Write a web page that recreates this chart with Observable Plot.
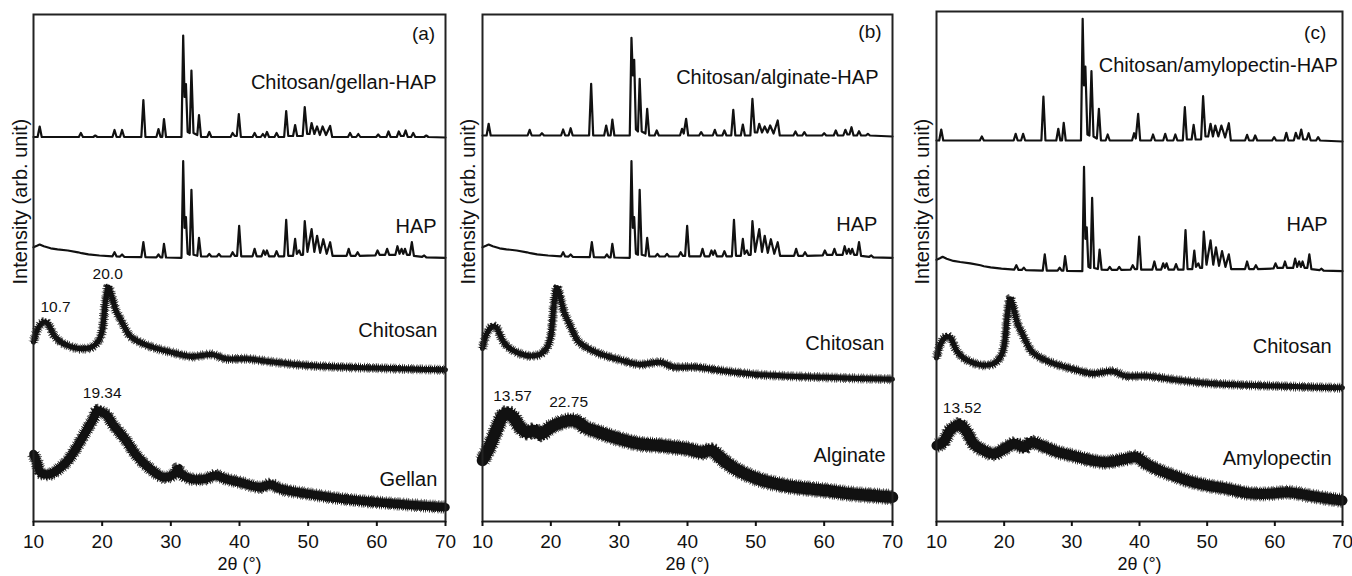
<!DOCTYPE html>
<html><head><meta charset="utf-8">
<script src="https://cdn.jsdelivr.net/npm/d3@7"></script>
<script src="https://cdn.jsdelivr.net/npm/@observablehq/plot@0.6"></script>
<style>
body{margin:0;background:#fff;}
#wrap{position:relative;width:1352px;height:576px;font-family:"Liberation Sans",Arial,Helvetica,sans-serif;overflow:hidden;}
#wrap > svg{position:absolute;top:0;}
</style></head><body><div id="wrap"></div>
<script>
// ---------- tick labels / axis text ----------
const xTicks = [10, 20, 30, 40, 50, 60, 70];
const xLabel = "2θ (°)";
const yLabel = "Intensity (arb. unit)";

// ---------- patterns: [2θ (°), intensity (arb. unit, relative)] ----------
const hap = [[10,10.5],[10.5,12],[10.9,13.3],[11.5,11.5],[12.5,9.5],[13.5,8.5],[15,7.3],[16.5,5.5],[17,4.6],[18,3.5],[19.6,2.3],[21.5,1.5],[21.8,5.6],[22.1,1.3],[22.6,1.2],[22.9,3.3],[23.2,1],[25.7,0.6],[26,15.6],[26.3,0.6],[27.9,0.5],[28.2,3.3],[28.5,0.5],[28.75,0.5],[29,14],[29.3,0.3],[31.55,0],[31.8,96.6],[32,30],[32.2,40.6],[32.45,4],[32.75,3],[33,68],[33.3,3],[33.85,2],[34.1,20],[34.4,1.5],[35.3,1.3],[35.6,4],[35.9,1.3],[36.7,1.3],[37,4],[37.3,1.3],[38.7,1.5],[39,5.6],[39.3,2],[39.65,2],[39.95,32],[40.25,1.5],[41.9,1.5],[42.2,9],[42.5,1.5],[43.2,1.5],[43.5,7.3],[43.75,3],[44,7.3],[44.3,1.5],[45.1,1.5],[45.4,6.6],[45.7,1.5],[46.5,1.5],[46.8,38],[47.1,2],[47.8,2],[48.1,19],[48.35,4],[48.7,7.3],[48.95,3],[49.25,3],[49.5,36.6],[49.9,6],[50.5,28.6],[50.9,6],[51.3,22],[51.75,5],[52.2,18.6],[52.7,4],[53.2,15.6],[53.55,2],[55.6,2],[55.9,9],[56.2,2],[56.9,2],[57.2,5.6],[57.5,2],[59.8,2.5],[60.1,7.3],[60.4,3],[61.2,3],[61.5,9],[61.8,3],[62.7,3],[63,11.6],[63.3,4],[63.6,9],[63.85,4],[64.1,9],[64.4,3],[64.8,3],[65.1,15.6],[65.4,2],[66.6,1],[66.9,2.3],[67.2,0.5],[70,0]];

const chitosan = [[10,27.7],[10.5,39.3],[11,45],[11.5,47.7],[12,46.7],[12.5,41],[13,34.3],[14,27.7],[15,24.3],[16,22],[17,21],[18.5,22.7],[19.5,29.3],[20,39.3],[20.5,69.3],[20.9,82.7],[21.5,71],[22,59.3],[22.5,52.7],[23,46],[24,34.3],[25,29.3],[27,23.3],[30,17.7],[33,13.3],[36,15.3],[38,11],[41,11],[45,7.7],[50,4.3],[55,2.7],[60,1.7],[65,0.7],[70,0]];

const chitosanGellanHap = [[10,0],[10.6,0],[10.9,10.5],[11.2,0],[16.6,0],[16.9,4],[17.2,0],[18.7,0],[19,1.5],[19.3,0],[21.5,0],[21.8,7],[22.1,0],[22.6,0],[22.9,7],[23.2,0],[25.7,0],[26,37],[26.3,0],[27.9,0],[28.2,8],[28.5,0],[28.75,0],[29,18],[29.3,0],[31.55,0],[31.8,101.5],[32,40],[32.2,53],[32.45,5],[32.75,4],[33,66.5],[33.3,4],[33.85,2],[34.1,22],[34.4,0],[35.3,0],[35.6,5],[35.9,0],[38.7,0],[39,4],[39.3,1],[39.6,1],[39.9,23],[40.2,0],[41.9,0],[42.2,4],[42.5,0],[43.1,0],[43.4,3],[43.7,0],[44,5],[44.3,0],[45.1,0],[45.4,4],[45.7,0],[46.5,0],[46.8,26],[47.1,1],[47.8,1],[48.1,12],[48.4,1],[49.2,1],[49.5,30],[49.85,3],[50.2,3],[50.5,14],[50.9,3],[51.3,10.5],[51.7,2],[52.1,10.5],[52.6,2],[53.2,11],[53.5,0],[55.8,0],[56.1,4],[56.4,0],[57,0],[57.3,3],[57.6,0],[59.9,0],[60.2,2.5],[60.5,0],[61.4,0],[61.7,5.5],[62,0],[62.9,0],[63.2,5.5],[63.5,1],[63.9,1],[64.2,6.5],[64.5,0],[65,0],[65.3,4],[65.6,0],[66.9,0],[67.2,1.5],[67.5,0],[70,-0.5]];

const gellan = [[10,53.3],[10.5,45],[11,35],[12,32.7],[13,35],[14,40],[15,46.7],[16,56.7],[17,68.3],[18,80],[18.7,88.3],[19.3,96.7],[20,95],[20.7,91.7],[21.5,83.3],[22.5,75],[23.5,66.7],[25,51.7],[27,38.3],[29,30],[30.5,33.3],[31,38.3],[31.5,33.3],[33,28.3],[35,28.3],[36.5,31.7],[38,28.3],[40,25],[43,20],[44.5,22.7],[46,18.3],[50,13.3],[55,8.3],[60,5],[65,2.3],[70,0]];

const chitosanAlginateHap = [[10,0],[10.6,0],[10.9,11.7],[11.2,0],[16.6,0],[16.9,5.7],[17.2,0],[18.4,0],[18.7,2.3],[19,0],[21.5,0],[21.8,6],[22.1,0],[22.6,0],[22.9,7.3],[23.2,0],[25.6,0],[25.9,51.7],[26.2,0],[27.8,0],[28.1,10],[28.4,0],[28.75,0],[29,16],[29.3,0],[31.55,0],[31.8,97.7],[32,60],[32.2,75.7],[32.45,6],[32.75,4],[33,56.7],[33.3,4],[33.85,2],[34.1,26.7],[34.4,0],[35.2,0],[35.5,5],[35.8,0],[38.9,0],[39.2,6.7],[39.45,2],[39.8,16.7],[40.1,0],[41.7,0],[42,3.3],[42.3,0],[43.7,0],[44,5.7],[44.3,0],[45.1,0],[45.4,5],[45.7,0],[46.4,0],[46.7,25.7],[47,0],[47.8,0],[48.1,11],[48.4,0],[49.2,0],[49.5,36.7],[49.85,3],[50.2,3],[50.5,11.7],[50.9,3],[51.3,9],[51.7,3],[52.1,10],[52.6,2],[53.2,15],[53.5,0],[55.5,0],[55.8,4],[56.1,0],[56.8,0],[57.1,3.3],[57.4,0],[59.7,0],[60,2.3],[60.3,0],[61.4,0],[61.7,5],[62,0],[62.8,0],[63.1,5.7],[63.4,1],[63.7,1],[64,8.3],[64.3,0],[64.8,0],[65.1,4.3],[65.4,0],[66.1,0],[66.4,1.7],[66.7,0],[70,-1]];

const alginate = [[10,36.7],[11,50],[12,66.7],[13,81.7],[13.6,84],[14.5,80],[15.5,70],[16.5,65],[17.5,66.7],[18.5,63.3],[20,70],[21,73.3],[22.75,76.7],[24,75],[25,70],[27,65],[30,58.3],[33,53.3],[36,51.7],[38,50],[40,48.3],[42,45],[43.5,46.7],[45,38.3],[47,28.3],[49,21.7],[51,16.7],[53,13.3],[55,10.7],[58,8.3],[61,6],[64,3.3],[67,1.7],[70,0]];

const chitosanAmylopectinHap = [[10,0],[10.4,0],[10.7,11],[11,0],[16.4,0],[16.7,4],[17,0],[21.4,0],[21.7,6.7],[22,0],[22.5,0],[22.8,6.7],[23.1,0],[25.5,0],[25.8,44],[26.1,0],[27.7,0],[28,11.7],[28.3,0],[28.55,0],[28.8,17.7],[29.1,0],[31.35,0],[31.6,121.7],[31.8,55],[32,74],[32.3,6],[32.6,5],[32.9,69.3],[33.2,4],[33.7,2],[34,31.7],[34.3,0],[35,0],[35.3,6],[35.6,0],[38.9,0],[39.2,7.3],[39.45,2],[39.8,26.7],[40.1,0],[41.7,0],[42,6],[42.3,0],[43.5,0],[43.8,6.7],[44.1,0],[45,0],[45.3,6],[45.6,0],[46.4,0],[46.7,33.3],[47,1],[47.7,1],[48,15.7],[48.3,1],[49.1,1],[49.4,44.3],[49.75,4],[50.15,4],[50.5,16.7],[50.85,4],[51.2,15],[51.65,4],[52.1,15],[52.65,3],[53.2,17.3],[53.5,0],[55.6,0],[55.9,5.7],[56.2,0],[56.8,0],[57.1,5],[57.4,0],[59.6,0],[59.9,3.3],[60.2,0],[61.4,0],[61.7,7.7],[62,0],[62.8,0],[63.1,7.7],[63.4,2],[63.6,2],[63.9,11],[64.2,1],[64.7,1],[65,7.3],[65.3,0],[66.1,0],[66.4,3.3],[66.7,0],[70,-1]];

const amylopectin = [[10,55],[11,58.3],[12,70],[13,75],[13.5,76],[14.5,68.3],[15.5,56.7],[17,50],[18.5,46.7],[20,51.7],[21.5,56.7],[23,53.3],[24,58.3],[25.5,55],[28,48.3],[30,45],[33,40],[35,38.3],[38,41.7],[39.5,43.3],[41,36.7],[43,30],[45,25],[47,20],[50,15],[53,11.7],[56,7.3],[59,6.7],[62,8.3],[65,5],[68,1.7],[70,0]];

// ---------- stacking (vertical offset and scale of each pattern) ----------
const stackA = [
  {data: chitosanGellanHap, offset: 384.5, scale: 1, w: 2.2},
  {data: hap, offset: 263.7, scale: 1, w: 2.2},
  {data: chitosan, offset: 151.7, scale: 1, w: 5, noisy: true},
  {data: gellan, offset: 14.3, scale: 1, w: 8.5, noisy: true}
];
const stackB = [
  {data: chitosanAlginateHap, offset: 386, scale: 1, w: 2.2},
  {data: hap, offset: 263.7, scale: 1, w: 2.2},
  {data: chitosan, offset: 142.3, scale: 1.11, w: 5, noisy: true},
  {data: alginate, offset: 24.3, scale: 1, w: 11.5, noisy: true}
];
const stackC = [
  {data: chitosanAmylopectinHap, offset: 381, scale: 1, w: 2.2},
  {data: hap, offset: 250.3, scale: 1.08, w: 2.2},
  {data: chitosan, offset: 133.7, scale: 1.076, w: 5, noisy: true},
  {data: amylopectin, offset: 21, scale: 1, w: 10, noisy: true}
];

// ---------- text annotations: [text, 2θ, intensity] ----------
const namesA = [["Chitosan/gellan-HAP",68.7,439],["HAP",68.7,295],["Chitosan",68.8,191],["Gellan",68.8,42]];
const namesB = [["Chitosan/alginate-HAP",67.95,444],["HAP",67.8,297],["Chitosan",68.8,178],["Alginate",69.0,66]];
const namesC = [["Chitosan/amylopectin-HAP",69.3,456],["HAP",67.8,297],["Chitosan",68.4,175],["Amylopectin",68.4,63]];
const tagA = [["(a)",68.5,488]], tagB = [["(b)",68.4,490]], tagC = [["(c)",67.6,489]];
const peaksA = [["20.0",20.8,247],["10.7",13.2,214],["19.34",20.0,128]];
const peaksB = [["13.57",14.4,125],["22.75",22.6,119]];
const peaksC = [["13.52",13.8,113]];

const panels = [
  {left: 0, width: 452, mL: 33, mR: 7, mT: 14, yMax: 507, stack: stackA, names: namesA, tag: tagA, peaks: peaksA, ydx: -13},
  {left: 452, width: 450, mL: 30, mR: 10, mT: 14, yMax: 507, stack: stackB, names: namesB, tag: tagB, peaks: peaksB, ydx: -14},
  {left: 902, width: 450, mL: 34, mR: 10, mT: 11, yMax: 510, stack: stackC, names: namesC, tag: tagC, peaks: peaksC, ydx: -14}
];

const FONT = '"Liberation Sans", Arial, Helvetica, sans-serif';
const INK = "#111";
const wrap = document.getElementById("wrap");
for (const p of panels) {
  const lines = [];
  for (const s of p.stack) {
    const ch = {x: d => d[0], y: d => s.offset + s.scale * d[1]};
    if (s.noisy) {
      // ragged noise band: solid core plus fine comb-dashed strokes for the jagged edge
      lines.push(Plot.line(s.data, {...ch, curve: "catmull-rom", stroke: INK, strokeWidth: s.w + 5, strokeDasharray: "0.8 2.2 0.8 1.2 0.8 3", strokeLinecap: "butt", strokeOpacity: 0.75}));
      lines.push(Plot.line(s.data, {...ch, curve: "catmull-rom", stroke: INK, strokeWidth: s.w + 2.5, strokeDasharray: "1 1", strokeLinecap: "butt"}));
      lines.push(Plot.line(s.data, {...ch, curve: "catmull-rom", stroke: INK, strokeWidth: s.w, strokeLinejoin: "round", strokeLinecap: "round"}));
    } else {
      lines.push(Plot.line(s.data, {...ch, stroke: INK, strokeWidth: s.w, strokeLinejoin: "round", strokeLinecap: "round"}));
    }
  }
  const frameMid = (p.mT + 521) / 2;
  const chart = Plot.plot({
    width: p.width, height: 576,
    marginLeft: p.mL, marginRight: p.mR, marginTop: p.mT, marginBottom: 55,
    style: {fontFamily: FONT, fontSize: "19px", color: INK, background: "transparent", overflow: "visible"},
    x: {domain: [10, 70]},
    y: {domain: [0, p.yMax], axis: null},
    marks: [
      ...lines,
      Plot.frame({stroke: "#222", strokeWidth: 2}),
      Plot.axisX({ticks: xTicks, tickSize: 5, tickPadding: 8, strokeWidth: 2, fontSize: 19,
                  label: null}),
      Plot.text([xLabel], {frameAnchor: "bottom", dy: 48, fontSize: 18, fill: INK}),
      Plot.text([yLabel], {frameAnchor: "left", rotate: -90, dx: p.ydx, dy: 284 - frameMid, fontSize: 20, fill: INK}),
      Plot.text(p.names, {x: d => d[1], y: d => d[2], text: d => d[0], textAnchor: "end", fontSize: 20, fill: INK}),
      Plot.text(p.tag, {x: d => d[1], y: d => d[2], text: d => d[0], textAnchor: "end", fontSize: 19, fill: INK}),
      Plot.text(p.peaks, {x: d => d[1], y: d => d[2], text: d => d[0], textAnchor: "middle", fontSize: 15.5, fill: INK})
    ]
  });
  chart.style.left = p.left + "px";
  wrap.appendChild(chart);
}
</script>
</body></html>
